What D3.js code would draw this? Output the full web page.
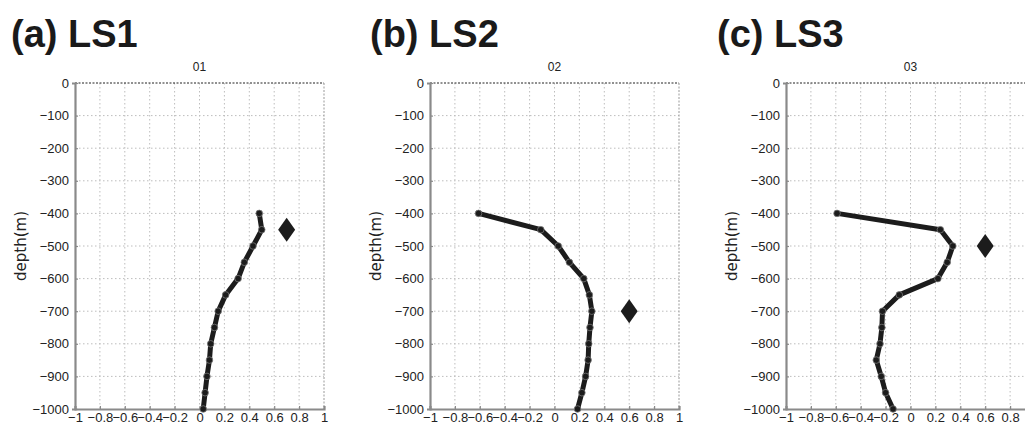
<!DOCTYPE html>
<html>
<head>
<meta charset="utf-8">
<script src="https://cdn.jsdelivr.net/npm/d3@7/dist/d3.min.js"></script>
<style>
  html, body { margin: 0; padding: 0; background: #fff; }
  svg { display: block; }
</style>
</head>
<body>
<svg id="chart" width="1025" height="423"></svg>
<script>
// Depth levels (m) shared by all three profiles
const depths = [-400, -450, -500, -550, -600, -650, -700, -750, -800, -850, -900, -950, -1000];

// Profile values for each site
const ls1Values = [0.48, 0.50, 0.43, 0.36, 0.31, 0.21, 0.15, 0.12, 0.09, 0.08, 0.06, 0.045, 0.03];
const ls2Values = [-0.61, -0.11, 0.03, 0.12, 0.235, 0.28, 0.30, 0.285, 0.275, 0.27, 0.25, 0.22, 0.185];
const ls3Values = [-0.59, 0.24, 0.34, 0.295, 0.22, -0.09, -0.225, -0.23, -0.245, -0.275, -0.235, -0.2, -0.14];

// Single reference observation per site: [value, depth]
const markerPoints = [[0.70, -450], [0.60, -700], [0.60, -500]];

const panelTitles = ["(a) LS1", "(b) LS2", "(c) LS3"];
const panelCodes = ["01", "02", "03"];
const xTicks = [-1, -0.8, -0.6, -0.4, -0.2, 0, 0.2, 0.4, 0.6, 0.8, 1];
const yTicks = [0, -100, -200, -300, -400, -500, -600, -700, -800, -900, -1000];
const yLabel = "depth(m)";

const seriesList = [ls1Values, ls2Values, ls3Values];

const svg = d3.select("#chart");
const panelLeft = [75, 430, 786];
const titleLeft = [11, 370, 717];
const plotTop = 83, plotW = 249, plotH = 326;

const fmt = v => {
  const s = (Math.abs(v) < 1e-9) ? "0" : d3.format("")(+v.toFixed(1));
  return s.replace("-", "\u2212");
};

panelLeft.forEach((left, i) => {
  const x = d3.scaleLinear().domain([-1, 1]).range([0, plotW]);
  const y = d3.scaleLinear().domain([-1000, 0]).range([plotH, 0]);

  // panel heading
  svg.append("text")
    .attr("x", titleLeft[i]).attr("y", 47)
    .attr("font-family", "Liberation Sans, Arial, sans-serif")
    .attr("font-weight", "bold").attr("font-size", 38)
    .attr("fill", "#1a1a1a")
    .text(panelTitles[i]);

  const g = svg.append("g").attr("transform", `translate(${left},${plotTop})`);

  // site code above plot
  g.append("text")
    .attr("x", x(0)).attr("y", -12)
    .attr("text-anchor", "middle")
    .attr("font-family", "Liberation Sans, Arial, sans-serif")
    .attr("font-size", 12).attr("fill", "#222")
    .text(panelCodes[i]);

  // dotted grid
  g.append("g").selectAll("line.vx").data(xTicks.slice(1, -1)).join("line")
    .attr("x1", d => x(d)).attr("x2", d => x(d))
    .attr("y1", 0).attr("y2", plotH)
    .attr("stroke", "#bdbdbd").attr("stroke-width", 1)
    .attr("stroke-dasharray", "1.5,2.5");
  g.append("g").selectAll("line.hy").data(yTicks.slice(1, -1)).join("line")
    .attr("y1", d => y(d)).attr("y2", d => y(d))
    .attr("x1", 0).attr("x2", plotW)
    .attr("stroke", "#bdbdbd").attr("stroke-width", 1)
    .attr("stroke-dasharray", "1.5,2.5");

  // frame: dashed top, light right edge
  g.append("line").attr("x1", 0).attr("x2", plotW).attr("y1", 0).attr("y2", 0)
    .attr("stroke", "#222").attr("stroke-width", 1).attr("stroke-dasharray", "2,1.5");
  g.append("line").attr("x1", plotW).attr("x2", plotW).attr("y1", 0).attr("y2", plotH)
    .attr("stroke", "#999").attr("stroke-width", 1).attr("stroke-dasharray", "2,1.5");

  // axes
  const xAxis = d3.axisBottom(x).tickValues(xTicks).tickSize(-3).tickPadding(4).tickFormat(fmt);
  const yAxis = d3.axisLeft(y).tickValues(yTicks).tickSize(3).tickPadding(3).tickFormat(fmt);

  const gx = g.append("g").attr("transform", `translate(0,${plotH})`).call(xAxis);
  const gy = g.append("g").call(yAxis);
  [gx, gy].forEach(a => {
    a.select(".domain").attr("stroke", "#8a8a8a").attr("stroke-width", 2.2);
    a.selectAll(".tick line").attr("stroke", "#8a8a8a").attr("stroke-width", 1.2);
    a.selectAll(".tick text")
      .attr("font-family", "Liberation Sans, Arial, sans-serif")
      .attr("font-size", 13).attr("fill", "#222");
  });
  gy.selectAll(".tick line").attr("x2", 3);

  // y-axis title
  g.append("text")
    .attr("transform", `translate(${-49},${plotH * 0.5}) rotate(-90)`)
    .attr("text-anchor", "middle")
    .attr("font-family", "DejaVu Sans, sans-serif")
    .attr("font-size", 15).attr("fill", "#222")
    .text(yLabel);

  // profile line
  const pts = depths.map((d, k) => [seriesList[i][k], d]);
  g.append("path")
    .datum(pts)
    .attr("fill", "none")
    .attr("stroke", "#1c1c1c").attr("stroke-width", 5)
    .attr("stroke-linejoin", "round")
    .attr("d", d3.line().x(p => x(p[0])).y(p => y(p[1])));

  g.append("g").selectAll("circle").data(pts).join("circle")
    .attr("cx", p => x(p[0])).attr("cy", p => y(p[1]))
    .attr("r", 3.3)
    .attr("fill", "#1c1c1c")
    .attr("stroke", "#777").attr("stroke-width", 0.8);

  // observation diamond
  const m = markerPoints[i];
  const cx = x(m[0]), cy = y(m[1]);
  g.append("path")
    .attr("d", `M${cx},${cy - 12}L${cx + 8.5},${cy}L${cx},${cy + 12}L${cx - 8.5},${cy}Z`)
    .attr("fill", "#1c1c1c");
});
</script>
</body>
</html>
